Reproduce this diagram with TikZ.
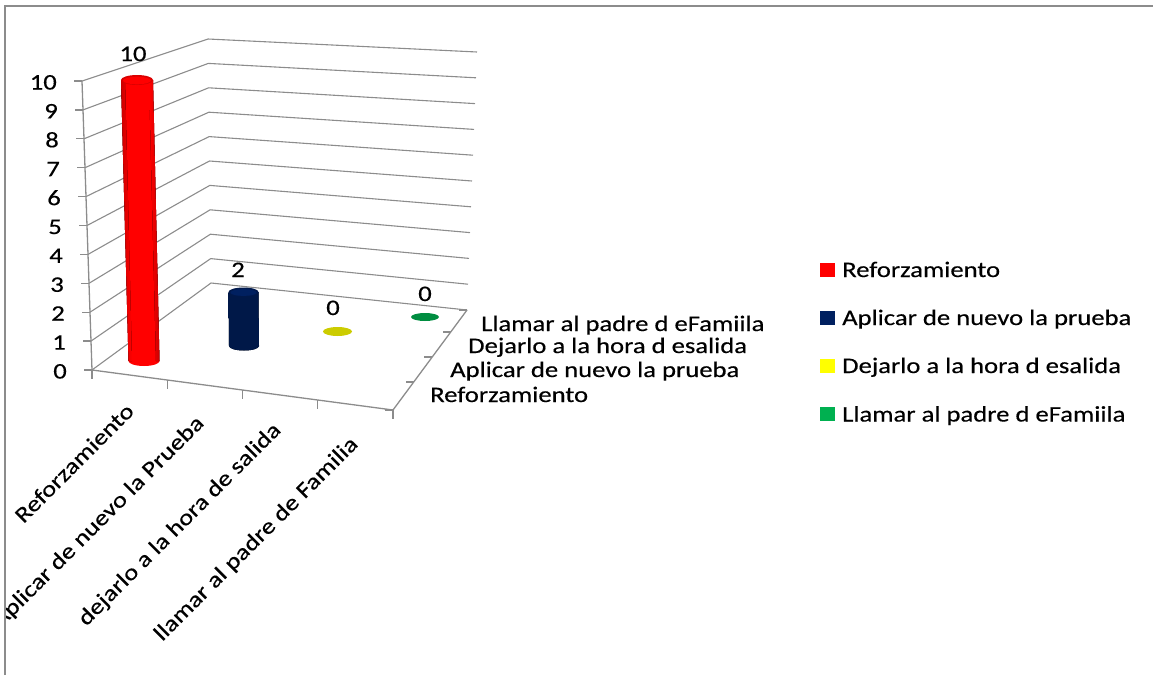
\documentclass[tikz,border=0pt]{standalone}
\usepackage{fontspec}
\setmainfont{Carlito}[FakeStretch=1.2, FakeBold=0.4]
\usetikzlibrary{calc}
\definecolor{gridgray}{RGB}{140,140,140}
\definecolor{barred}{RGB}{255,0,0}
\definecolor{barnavy}{RGB}{0,32,96}
\definecolor{baryellow}{RGB}{255,255,0}
\definecolor{bargreen}{RGB}{0,176,80}
\tikzset{
	every node/.style={font=\fontsize{22.2}{26}\selectfont, inner sep=0pt},
	gridln/.style={draw=gridgray, line width=1.1pt},
	axisln/.style={draw=gridgray, line width=1.3pt},
	catlbl/.style={rotate=45, anchor=east},
	legsq/.style={minimum width=15pt, minimum height=14pt, anchor=south west},
}

\begin{document}
\begin{tikzpicture}[x=1pt, y=-1pt]
		%%%%% START %%%%%
		\useasboundingbox (0,0) rectangle (1153,675);
		\draw[gridgray, line width=1.6pt] (5,675) -- (5,6) -- (1153,6);
		
		% corners of the box
		\coordinate (flb) at (92,370);
		\coordinate (flt) at (82,81);
		\coordinate (blb) at (211,283);
		\coordinate (blt) at (208,39);
		\coordinate (brb) at (467,310);
		\coordinate (brt) at (477,52);
		\coordinate (frb) at (393,410);
		
		\foreach \v in {0,...,10}{
			\draw[gridln] ($(flb)!\v/10!(flt)$) -- ($(blb)!\v/10!(blt)$) -- ($(brb)!\v/10!(brt)$);
			\draw[axisln] ($(flb)!\v/10!(flt)$) -- ++(-8,0);
			\node[anchor=base east] (val\v) at ($(flb)!\v/10!(flt)+(-25,8.5)$) {\v};
		}
		\draw[axisln] (flt) -- (flb) -- (frb) -- (brb);
		
		\foreach \i in {0,...,4}{
			\draw[axisln] ($(flb)!\i/4!(frb)$) -- ++(0,9);
		}
		\foreach \p in {0,0.28,0.53,0.78,1}{
			\draw[axisln] ($(frb)!\p!(brb)$) -- ++(-8,0);
		}
		
		\begin{scope}
		\clip (6,7) rectangle (1153,675);
		\node[catlbl] (c1) at (130,407) {Reforzamiento};
		\node[catlbl] (c2) at (201,420) {Aplicar de nuevo la Prueba};
		\node[catlbl] (c3) at (278,427) {dejarlo a la hora de salida};
		\node[catlbl] (c4) at (355,441) {llamar al padre de Familia};
		\end{scope}
		
		\node[anchor=base west] (s4) at (481,331) {Llamar al padre d eFamiila};
		\node[anchor=base west] (s3) at (468,353) {Dejarlo a la hora d esalida};
		\node[anchor=base west] (s2) at (450,377) {Aplicar de nuevo la prueba};
		\node[anchor=base west] (s1) at (430,402) {Reforzamiento};
		
		% red cylinder
		\fill[barred] (121,80) -- (128.5,361) arc[start angle=180, end angle=0, x radius=15.5, y radius=5] -- (153,80) -- cycle;
		\fill[left color=barred!80!black, right color=barred] (121,80) -- (128.5,361) -- (132,361) -- (125,80) -- cycle;
		\fill[left color=barred, right color=barred!80!black] (149,80) -- (156,361) -- (159.5,361) -- (153,80) -- cycle;
		\fill[barred!85!black] (137,80) ellipse [x radius=16, y radius=5];
		\fill[barred] (137,80.5) ellipse [x radius=14, y radius=3.8];
		
		% navy cylinder
		\fill[left color=barnavy!75!black, middle color=barnavy!88!white, right color=barnavy!75!black]
			(228.5,292) -- (229,346) arc[start angle=180, end angle=0, x radius=15, y radius=4.5] -- (258.5,292) -- cycle;
		\fill[barnavy!80!black] (243.5,292) ellipse [x radius=15, y radius=4.5];
		\fill[barnavy] (243.5,292.5) ellipse [x radius=13, y radius=3.4];
		
		% zero bars
		\fill[baryellow!80!black] (337.5,331.5) ellipse [x radius=14.5, y radius=4.5];
		\fill[bargreen!80!black] (425,317) ellipse [x radius=14, y radius=4];
		
		\node[anchor=base] (n1) at (133,61) {10};
		\node[anchor=base] (n2) at (238,277) {2};
		\node[anchor=base] (n3) at (333,315) {0};
		\node[anchor=base] (n4) at (425,301) {0};
		
		% legend
		\node[legsq, fill=barred] (k1) at (820,277) {};
		\node[legsq, fill=barnavy] (k2) at (820,325.5) {};
		\node[legsq, fill=baryellow] (k3) at (820,373.5) {};
		\node[legsq, fill=bargreen] (k4) at (820,421.5) {};
		\node[anchor=base west] (t1) at (842,277) {Reforzamiento};
		\node[anchor=base west] (t2) at (842,325) {Aplicar de nuevo la prueba};
		\node[anchor=base west] (t3) at (842,373) {Dejarlo a la hora d esalida};
		\node[anchor=base west] (t4) at (842,421.5) {Llamar al padre d eFamiila};
		%%%%% END %%%%%
\end{tikzpicture}
\end{document}
